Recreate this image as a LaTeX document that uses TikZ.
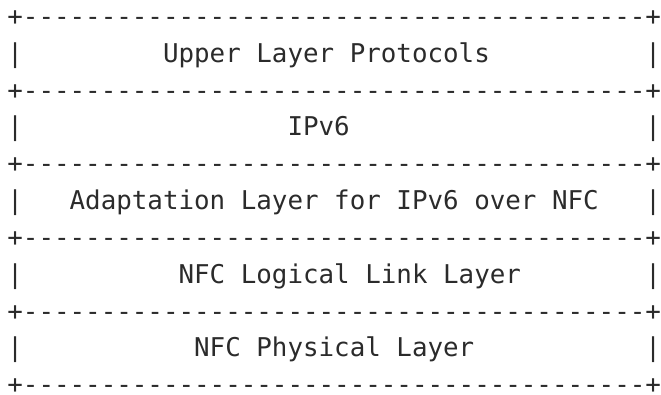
\documentclass[tikz,border=0pt]{standalone}
\usepackage{fontspec}
\setmonofont{DejaVu Sans Mono}
\usepackage{xcolor}
\usetikzlibrary{positioning}
\definecolor{inkgray}{HTML}{2B2B2B}
\tikzset{
  asciirow/.style={anchor=base west,inner sep=0pt,text depth=0pt,text=inkgray,
    font=\ttfamily\fontsize{25.85}{30}\selectfont}
}

\begin{document}
\begin{tikzpicture}[x=1pt,y=1pt]
  \useasboundingbox (0,0) rectangle (661,-395);
  % rules between the layers
  \foreach \r in {0,2,...,10} {
    \node[asciirow] (rule\r) at (7.2,{-25.6-36.8*\r})
      {+----------------------------------------+};
  }
  % one row per layer of the stack
  \foreach \r/\name/\txt in {
      1/upper/{|~~~~~~~~~Upper Layer Protocols~~~~~~~~~~|},
      3/ipv6/{|~~~~~~~~~~~~~~~~~IPv6~~~~~~~~~~~~~~~~~~~|},
      5/adapt/{|~~~Adaptation Layer for IPv6 over NFC~~~|},
      7/llc/{|~~~~~~~~~~NFC Logical Link Layer~~~~~~~~|},
      9/phy/{|~~~~~~~~~~~NFC Physical Layer~~~~~~~~~~~|}} {
    \node[asciirow] (\name) at (7.2,{-25.6-36.8*\r}) {\txt};
  }
\end{tikzpicture}
\end{document}
